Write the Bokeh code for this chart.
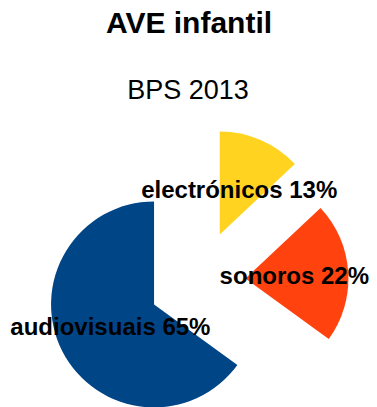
import math
from bokeh.plotting import figure
from bokeh.models import Range1d, ColumnDataSource
from bokeh.core.properties import value
from bokeh.embed import file_html
from bokeh.resources import INLINE

# ---- data ----
categories = ["audiovisuais", "sonoros", "electrónicos"]
percents = [65, 22, 13]
colors = ["#004586", "#ff420e", "#ffd320"]
title_text = "AVE infantil"
subtitle_text = "BPS 2013"

# ---- layout (pixel-like data space) ----
W, H = 377, 407
cx, cy = 199.0, 126.2        # pie centre (data units)
R = 103.0                    # radius
explode = [51.0, 46.0, 51.0] # offset of each slice from the centre
label_r = 49.0               # label distance from slice apex

total = float(sum(percents))
starts, ends, xs, ys, lx, ly, texts = [], [], [], [], [], [], []
a = math.pi / 2
for cat, v, ex in zip(categories, percents, explode):
    span = 2 * math.pi * v / total
    s, e = a, a + span
    mid = (s + e) / 2
    ox = cx + ex * math.cos(mid)
    oy = cy + ex * math.sin(mid)
    starts.append(s); ends.append(e)
    xs.append(ox); ys.append(oy)
    lx.append(ox + label_r * math.cos(mid))
    ly.append(oy + label_r * math.sin(mid))
    texts.append(f"{cat} {v}%")
    a = e

src = ColumnDataSource(dict(x=xs, y=ys, start=starts, end=ends, color=colors,
                            lx=lx, ly=ly, text=texts))

p = figure(width=W, height=H, x_range=Range1d(0, W), y_range=Range1d(0, H),
           x_axis_type=None, y_axis_type=None, toolbar_location=None,
           output_backend="svg", min_border=0)
p.grid.visible = False
p.outline_line_color = None
p.background_fill_color = "white"
p.border_fill_color = "white"

p.wedge(x="x", y="y", radius=R, start_angle="start", end_angle="end",
        direction="anticlock", fill_color="color", line_color=None, source=src)

p.text(x="lx", y="ly", text="text", source=src, text_font=value("Liberation Sans"),
       text_font_style="bold", text_font_size="24px", text_align="center",
       text_baseline="middle", text_color="black")

p.text(x=[188.5], y=[385], text=[title_text], text_font=value("Liberation Sans"),
       text_font_style="bold", text_font_size="30px", text_align="center",
       text_baseline="middle", text_color="black")
p.text(x=[187.5], y=[318], text=[subtitle_text], text_font=value("Liberation Sans"),
       text_font_size="27px", text_align="center",
       text_baseline="middle", text_color="black")

open("out.html", "w").write(file_html(p, INLINE))
